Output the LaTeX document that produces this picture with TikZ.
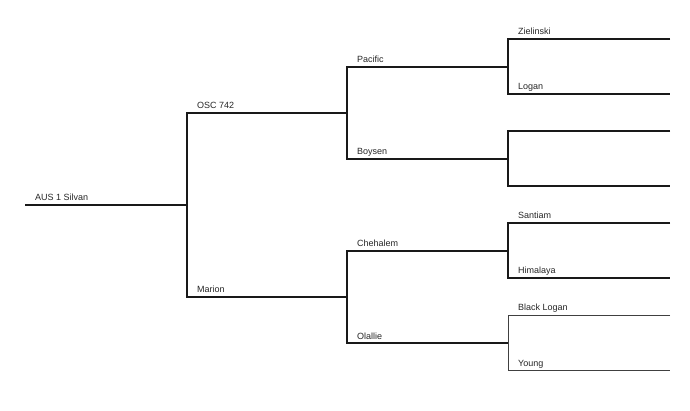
\documentclass[tikz,border=0pt]{standalone}
\usepackage{fontspec}
\setmainfont{Liberation Sans}
\usetikzlibrary{positioning}

\begin{document}
\begin{tikzpicture}[
  x=1pt, y=-1pt,
  lbl/.style={anchor=base west, inner sep=0pt, font=\fontsize{9}{10}\selectfont, text=black!85},
  line/.style={line width=1.6pt, black!90},
  thin/.style={line width=0.9pt, black!75}
]
\useasboundingbox (0,0) rectangle (690,411);

% generation 0
\coordinate (silvan) at (25,205);
\coordinate (silvan-e) at (187,205);
% generation 1
\coordinate (osc) at (187,113);
\coordinate (osc-e) at (347,113);
\coordinate (marion) at (187,297);
\coordinate (marion-e) at (347,297);
% generation 2
\coordinate (pacific) at (347,67);
\coordinate (pacific-e) at (508,67);
\coordinate (boysen) at (347,159);
\coordinate (boysen-e) at (508,159);
\coordinate (chehalem) at (347,251);
\coordinate (chehalem-e) at (508,251);
\coordinate (olallie) at (347,343);
\coordinate (olallie-e) at (508,343);
% generation 3
\coordinate (zielinski) at (508,39);
\coordinate (zielinski-e) at (670,39);
\coordinate (logan) at (508,94);
\coordinate (logan-e) at (670,94);
\coordinate (bsire) at (508,131);
\coordinate (bsire-e) at (670,131);
\coordinate (bdam) at (508,186);
\coordinate (bdam-e) at (670,186);
\coordinate (santiam) at (508,223);
\coordinate (santiam-e) at (670,223);
\coordinate (himalaya) at (508,278);
\coordinate (himalaya-e) at (670,278);
\coordinate (blogan) at (508,315);
\coordinate (blogan-e) at (670,315);
\coordinate (young) at (508,370);
\coordinate (young-e) at (670,370);

% names
\node[lbl] (silvan-l) at ([shift={(10,-4)}]silvan) {AUS 1 Silvan};
\node[lbl] (osc-l) at ([shift={(10,-4)}]osc) {OSC 742};
\node[lbl] (marion-l) at ([shift={(10,-4)}]marion) {Marion};
\node[lbl] (pacific-l) at ([shift={(10,-4)}]pacific) {Pacific};
\node[lbl] (boysen-l) at ([shift={(10,-4)}]boysen) {Boysen};
\node[lbl] (chehalem-l) at ([shift={(10,-4)}]chehalem) {Chehalem};
\node[lbl] (olallie-l) at ([shift={(10,-4)}]olallie) {Olallie};
\node[lbl] (zielinski-l) at ([shift={(10,-4)}]zielinski) {Zielinski};
\node[lbl] (logan-l) at ([shift={(10,-4)}]logan) {Logan};
\node[lbl] (santiam-l) at ([shift={(10,-4)}]santiam) {Santiam};
\node[lbl] (himalaya-l) at ([shift={(10,-4)}]himalaya) {Himalaya};
\node[lbl] (blogan-l) at ([shift={(10,-4)}]blogan) {Black Logan};
\node[lbl] (young-l) at ([shift={(10,-4)}]young) {Young};

% lines
\draw[line] (silvan) -- (silvan-e);
\draw[line] (osc-e) -- (osc) -- (marion) -- (marion-e);
\draw[line] (pacific-e) -- (pacific) -- (boysen) -- (boysen-e);
\draw[line] (chehalem-e) -- (chehalem) -- (olallie) -- (olallie-e);
\draw[line] (zielinski-e) -- (zielinski) -- (logan) -- (logan-e);
\draw[line] (bsire-e) -- (bsire) -- (bdam) -- (bdam-e);
\draw[line] (santiam-e) -- (santiam) -- (himalaya) -- (himalaya-e);
\draw[thin] (blogan-e) -- (blogan) -- (young) -- (young-e);

\end{tikzpicture}
\end{document}
